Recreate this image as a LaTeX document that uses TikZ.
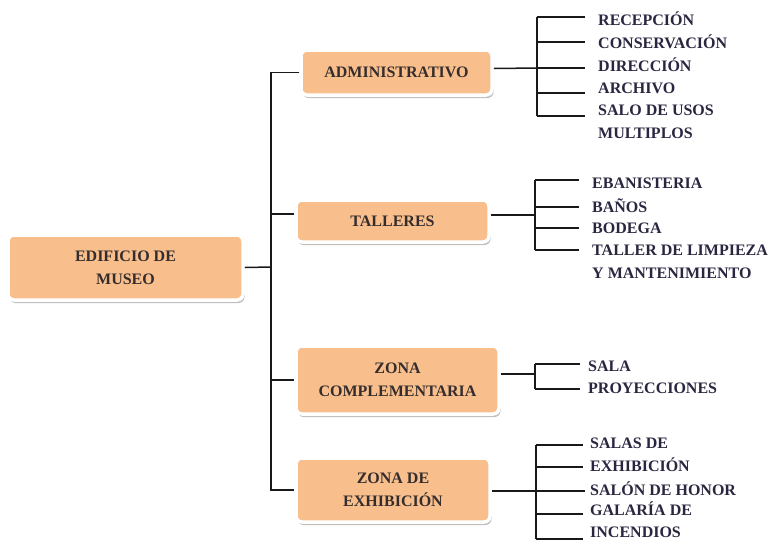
\documentclass[tikz,border=0pt]{standalone}
\usepackage{fontspec}
\setmainfont{Liberation Serif}
\usetikzlibrary{shadows}
\definecolor{boxfill}{HTML}{F8BF8D}
\definecolor{boxtext}{HTML}{352D2D}
\definecolor{lbltext}{HTML}{2A2640}
\begin{document}
\begin{tikzpicture}[x=1pt,y=-1pt,
  box/.style={rectangle, rounded corners=6pt, fill=boxfill, draw=white,
    line width=3.5pt, text=boxtext, font=\bfseries\fontsize{16}{23}\selectfont,
    align=center, inner sep=0pt,
    drop shadow={shadow xshift=1.5pt, shadow yshift=-3pt, fill=black!45, opacity=.55}},
  lbl/.style={anchor=west, inner sep=0pt, text=lbltext,
    font=\bfseries\fontsize{16}{22.5}\selectfont, align=left},
  link/.style={line width=1.5pt, draw=black!90}
]
\useasboundingbox (0,0) rectangle (775,542);

% main boxes
\node[box, minimum width=235pt, minimum height=65pt] (root) at (125.5,267.5) {EDIFICIO DE\\MUSEO};
\node[box, minimum width=191pt, minimum height=45pt] (adm) at (396.5,72.5) {ADMINISTRATIVO};
\node[box, minimum width=193pt, minimum height=42pt] (tal) at (392.5,221) {TALLERES};
\node[box, minimum width=203pt, minimum height=68pt] (zco) at (397.5,380) {ZONA\\COMPLEMENTARIA};
\node[box, minimum width=194pt, minimum height=64pt] (zex) at (393,490) {ZONA DE\\EXHIBICIÓN};

% trunk from the root to the four areas
\coordinate (trunk) at (271,267);
\draw[link] (root.east) -- (trunk);
\draw[link] (adm.west) -- (adm.west -| trunk) -- (zex.west -| trunk) -- (zex.west);
\draw[link] ([yshift=7pt]tal.west) -- ([yshift=7pt]tal.west -| trunk);
\draw[link] (zco.west) -- (zco.west -| trunk);

% ADMINISTRATIVO
\node[lbl] (a1) at (598,19) {RECEPCIÓN};
\node[lbl] (a2) at (598,42) {CONSERVACIÓN};
\node[lbl] (a3) at (598,65) {DIRECCIÓN};
\node[lbl] (a4) at (598,88) {ARCHIVO};
\node[lbl] (a5) at (598,122) {SALO DE USOS\\MULTIPLOS};
\coordinate (ja) at (537,68);
\coordinate (ae1) at (585,17);
\coordinate (ae2) at (585,42);
\coordinate (ae3) at (585,68);
\coordinate (ae4) at (585,93);
\coordinate (ae5) at (585,116);
\draw[link] ([yshift=4pt]adm.east) -- (ja);
\draw[link] (ae1 -| ja) -- (ae5 -| ja);
\foreach \e in {ae1,ae2,ae3,ae4,ae5} \draw[link] (\e -| ja) -- (\e);

% TALLERES
\node[lbl] (t1) at (592,183) {EBANISTERIA};
\node[lbl] (t2) at (592,206) {BAÑOS};
\node[lbl] (t3) at (592,228) {BODEGA};
\node[lbl] (t4) at (592,262) {TALLER DE LIMPIEZA\\Y MANTENIMIENTO};
\coordinate (jt) at (535,215);
\coordinate (te1) at (579,180);
\coordinate (te2) at (579,207);
\coordinate (te3) at (579,228);
\coordinate (te4) at (579,250);
\draw[link] (tal.east |- jt) -- (jt);
\draw[link] (te1 -| jt) -- (te4 -| jt);
\foreach \e in {te1,te2,te3,te4} \draw[link] (\e -| jt) -- (\e);

% ZONA COMPLEMENTARIA
\node[lbl] (c1) at (588,366) {SALA};
\node[lbl] (c2) at (588,388) {PROYECCIONES};
\coordinate (jc) at (535,374);
\coordinate (ce1) at (580,364);
\coordinate (ce2) at (580,389);
\draw[link] (zco.east |- jc) -- (jc);
\draw[link] (ce1 -| jc) -- (ce2 -| jc);
\foreach \e in {ce1,ce2} \draw[link] (\e -| jc) -- (\e);

% ZONA DE EXHIBICION
\node[lbl] (e1) at (590,455) {SALAS DE\\EXHIBICIÓN};
\node[lbl] (e2) at (590,489) {SALÓN DE HONOR};
\node[lbl, font=\bfseries\fontsize{16}{22}\selectfont] (e3) at (590,520) {GALARÍA DE\\INCENDIOS};
\coordinate (je) at (536,491);
\coordinate (ee1) at (583,445);
\coordinate (ee2) at (583,467);
\coordinate (ee3) at (585,491);
\coordinate (ee4) at (583,514);
\coordinate (ee5) at (583,539);
\draw[link] (zex.east |- je) -- (ee3);
\draw[link] (ee1 -| je) -- (ee5 -| je);
\foreach \e in {ee1,ee2,ee4,ee5} \draw[link] (\e -| je) -- (\e);
\end{tikzpicture}
\end{document}
